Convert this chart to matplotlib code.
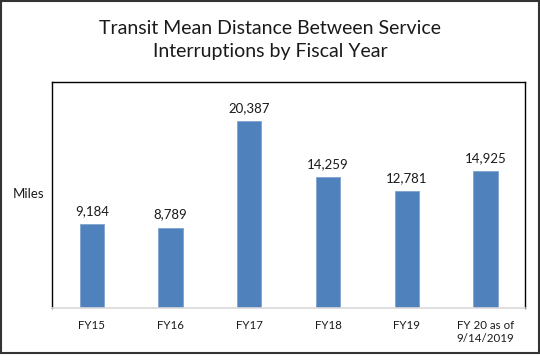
import matplotlib
matplotlib.use("Agg")
import matplotlib.pyplot as plt
from matplotlib.patches import Rectangle

# data
YEARS = ["FY15", "FY16", "FY17", "FY18", "FY19", "FY 20 as of\n9/14/2019"]
MILES = [9184, 8789, 20387, 14259, 12781, 14925]

TITLE = "Transit Mean Distance Between Service\nInterruptions by Fiscal Year"
YLABEL = "Miles"

BAR_COLOR = "#4F81BD"
FONT = ["Lato", "DejaVu Sans"]

plt.rcParams["font.family"] = FONT

fig = plt.figure(figsize=(5.4, 3.64), dpi=100)
ax = fig.add_axes([0.097, 0.1525, 0.875, 0.622])

xs = list(range(len(YEARS)))
bars = ax.bar(xs, MILES, width=0.31, color=BAR_COLOR, edgecolor="#7FA3D0", linewidth=0.6)

for x, v in zip(xs, MILES):
    ax.annotate(f"{v:,}", (x, v), xytext=(0, 5), textcoords="offset points",
                ha="center", va="bottom", fontsize=9.5, color="#1a1a1a")

ax.set_xlim(-0.5, len(YEARS) - 0.5)
ax.set_ylim(0, 24600)
ax.set_yticks([])
ax.set_xticks(xs)
ax.set_xticklabels(YEARS, fontsize=8.3, color="#1a1a1a", linespacing=1.3)
ax.tick_params(axis="x", length=0, pad=8)

for side in ["left", "top", "right"]:
    ax.spines[side].set_color("black")
    ax.spines[side].set_linewidth(1.0)
ax.spines["bottom"].set_color("#D9D9D9")
ax.spines["bottom"].set_linewidth(1.2)

fig.text(0.052, 1 - 194 / 364, YLABEL, ha="center", va="center", fontsize=9.5, color="#1a1a1a")
fig.text(0.5, 1 - 40 / 364, TITLE, ha="center", va="center", fontsize=14, color="#1a1a1a",
         linespacing=1.4)

# outer chart frame
frame = Rectangle((0.5 / 540, 11 / 364), 538.5 / 540, 352.5 / 364, transform=fig.transFigure,
                  fill=False, edgecolor="#333333", linewidth=1.5)
fig.patches.append(frame)

fig.savefig("out.png", dpi=100)
